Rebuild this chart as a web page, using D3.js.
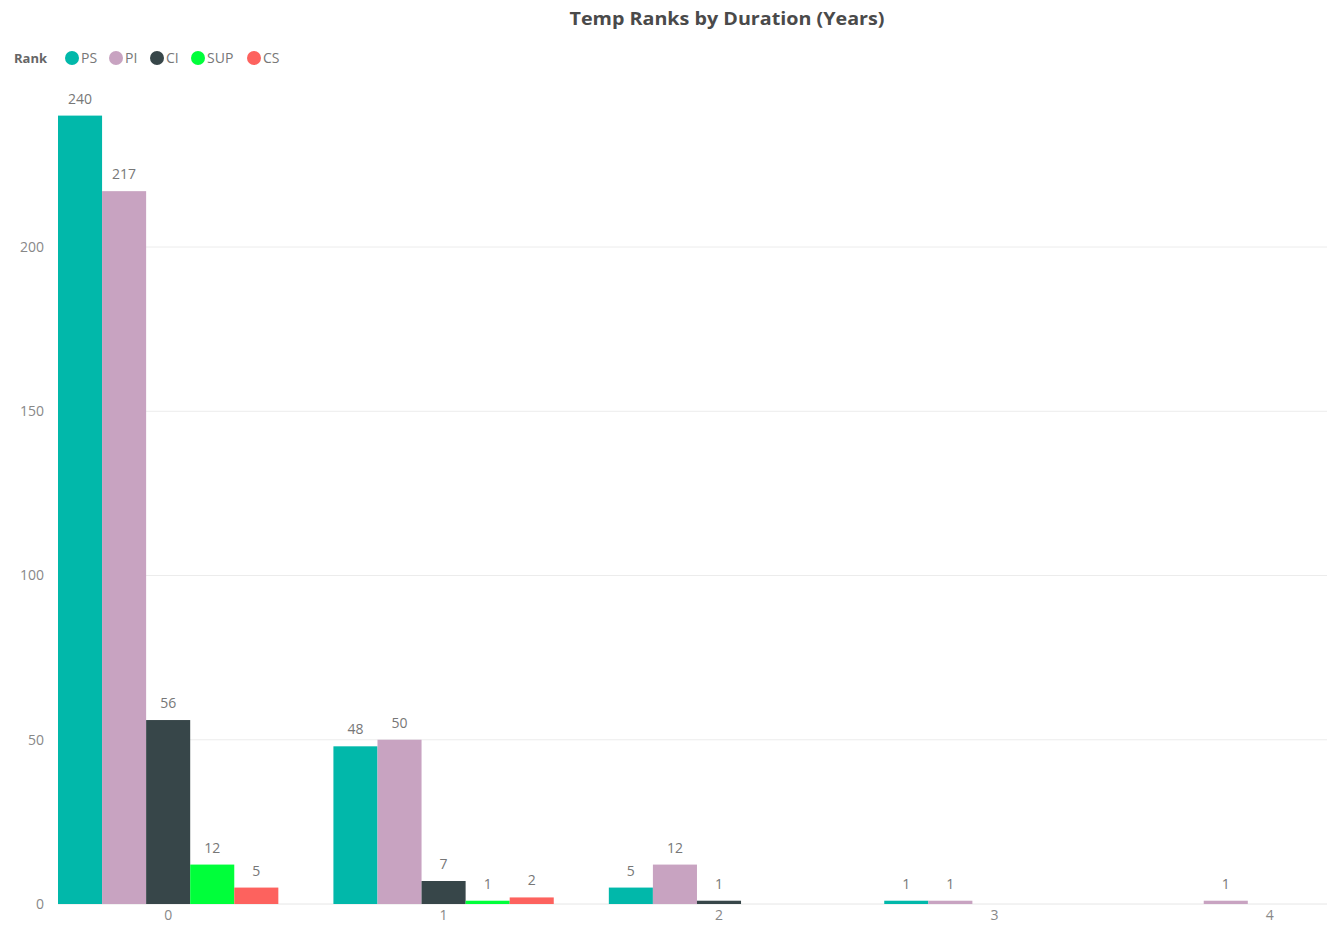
<!DOCTYPE html>
<html>
<head>
<meta charset="utf-8">
<script src="https://cdn.jsdelivr.net/npm/d3@7"></script>
<style>
  html, body { margin: 0; padding: 0; background: #fff; }
  svg { display: block; font-family: "Open Sans", "Noto Sans", sans-serif; }
</style>
</head>
<body>
<svg id="chart" width="1327" height="926"></svg>
<script>
// Duration in years (x categories)
const durations = ["0", "1", "2", "3", "4"];
// Rank series
const ranks = ["PS", "PI", "CI", "SUP", "CS"];
const rankColors = ["#01B8AA", "#C8A3C1", "#374649", "#00FF3A", "#FD625E"];
// Counts per rank, one value per duration (null = no bar)
const valuesPS  = [240, 48, 5, 1, null];
const valuesPI  = [217, 50, 12, 1, 1];
const valuesCI  = [56, 7, 1, null, null];
const valuesSUP = [12, 1, null, null, null];
const valuesCS  = [5, 2, null, null, null];
const yTicks = [0, 50, 100, 150, 200];

const seriesValues = [valuesPS, valuesPI, valuesCI, valuesSUP, valuesCS];

const svg = d3.select("#chart");
const W = 1327;
const FONT = "\"Open Sans\", \"Noto Sans\", sans-serif";

const x0 = d3.scaleBand().domain(durations).range([58, 1380]).paddingInner(0.2).paddingOuter(0);
const x1 = d3.scaleBand().domain(ranks).range([0, x0.bandwidth()]);
const y = d3.scaleLinear().domain([0, 250]).range([904, 82.75]);

// Title
svg.append("text")
  .attr("x", 727).attr("y", 25)
  .attr("text-anchor", "middle")
  .attr("font-size", 18).attr("font-weight", 700)
  .attr("fill", "#4a4a4a")
  .attr("textLength", 315).attr("lengthAdjust", "spacingAndGlyphs")
  .text("Temp Ranks by Duration (Years)");

// Legend
const legend = svg.append("g");
legend.append("text")
  .attr("x", 14).attr("y", 63)
  .attr("font-size", 13).attr("font-weight", 700).attr("fill", "#666")
  .text("Rank");
const legendX = [72, 116, 157, 198, 254];
ranks.forEach((r, i) => {
  legend.append("circle").attr("cx", legendX[i]).attr("cy", 58).attr("r", 7).attr("fill", rankColors[i]);
  legend.append("text").attr("x", legendX[i] + 9).attr("y", 63)
    .attr("font-size", 14).attr("fill", "#777").text(r);
});

// Gridlines
svg.append("g").selectAll("line")
  .data(yTicks.filter(d => d > 0))
  .join("line")
  .attr("x1", 58).attr("x2", W)
  .attr("y1", d => y(d)).attr("y2", d => y(d))
  .attr("stroke", "#ececec").attr("stroke-width", 1);

// Baseline
svg.append("line")
  .attr("x1", 58).attr("x2", W)
  .attr("y1", y(0)).attr("y2", y(0))
  .attr("stroke", "#e6e6e6").attr("stroke-width", 1);

// Y axis labels
const yAxis = svg.append("g")
  .attr("transform", "translate(44,0)")
  .call(d3.axisLeft(y).tickValues(yTicks).tickSize(0).tickPadding(0));
yAxis.select(".domain").remove();
yAxis.selectAll("text").attr("font-size", 14).attr("fill", "#888")
  .attr("font-family", FONT);

// X axis labels
const xAxis = svg.append("g")
  .attr("transform", "translate(0,908)")
  .call(d3.axisBottom(x0).tickSize(0).tickPadding(2));
xAxis.select(".domain").remove();
xAxis.selectAll("text").attr("font-size", 14).attr("fill", "#888")
  .attr("font-family", FONT);

// Bars
const bars = [];
durations.forEach((d, di) => {
  ranks.forEach((r, ri) => {
    const v = seriesValues[ri][di];
    if (v != null) bars.push({ d, r, v, color: rankColors[ri] });
  });
});

const g = svg.append("g");
g.selectAll("rect")
  .data(bars)
  .join("rect")
  .attr("x", b => x0(b.d) + x1(b.r))
  .attr("y", b => y(b.v))
  .attr("width", x1.bandwidth())
  .attr("height", b => y(0) - y(b.v))
  .attr("fill", b => b.color);

g.selectAll("text.val")
  .data(bars)
  .join("text")
  .attr("class", "val")
  .attr("x", b => x0(b.d) + x1(b.r) + x1.bandwidth() / 2)
  .attr("y", b => y(b.v) - 12)
  .attr("text-anchor", "middle")
  .attr("font-size", 14).attr("fill", "#777")
  .text(b => b.v);
</script>
</body>
</html>
